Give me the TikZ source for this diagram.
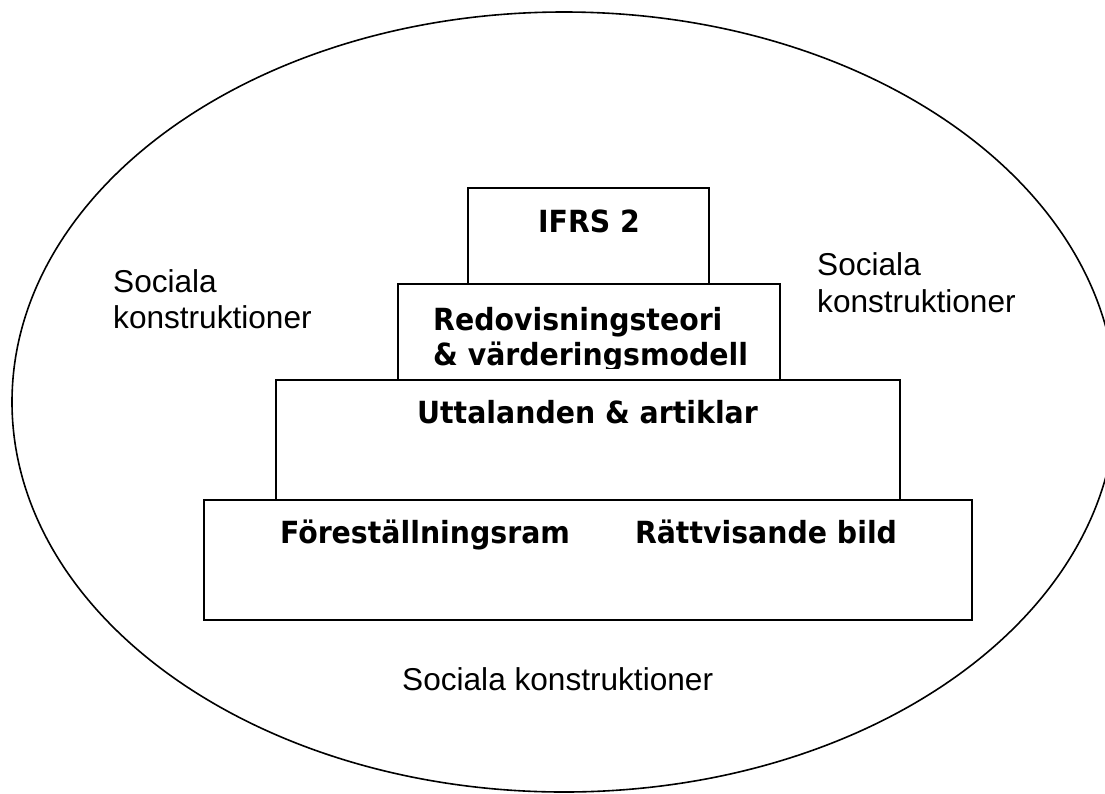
\documentclass[tikz,border=0pt]{standalone}
\usepackage{fontspec}
\setmainfont{Liberation Sans}
\newfontfamily\boldfam[FakeStretch=0.93]{DejaVu Sans}
\begin{document}
\begin{tikzpicture}[x=1pt,y=-1pt,
  layerbox/.style={draw=black,line width=1.8pt,fill=white,inner sep=0pt},
  boldtxt/.style={inner sep=0pt,font=\boldfam\bfseries\fontsize{30.5}{36}\selectfont},
  socialtxt/.style={inner sep=0pt,anchor=base west,font=\fontsize{31.6}{36}\selectfont}]
\clip (0,0) rectangle (1105,793);
\useasboundingbox (0,0) rectangle (1105,793);
\draw[line width=1.6pt] (564,402) ellipse [x radius=552, y radius=390];
% layers
\node[layerbox,minimum width=768pt,minimum height=120pt] (base) at (588,560) {};
\node[layerbox,minimum width=624pt,minimum height=120pt] (utta) at (588,440) {};
\node[layerbox,minimum width=382pt,minimum height=96pt] (redo) at (589,332) {};
\node[layerbox,minimum width=241pt,minimum height=96pt] (ifrs) at (588.5,236) {};
% texts
\node[boldtxt,anchor=base] (tifrs) at (589,232) {IFRS 2};
\node[boldtxt,anchor=base west] (tredo1) at (433,330) {Redovisningsteori};
\begin{scope}
\clip (398,284) rectangle (780,368);
\node[boldtxt,anchor=base west] (tredo2) at (433,365) {\& värderingsmodell};
\end{scope}
\node[boldtxt,anchor=base] (tutta) at (587.5,423) {Uttalanden \& artiklar};
\node[boldtxt,anchor=base] (tfore) at (425,543) {Föreställningsram};
\node[boldtxt,anchor=base] (tratt) at (766,543) {Rättvisande bild};
% social constructions
\node[socialtxt] (sl1) at (113,292) {Sociala};
\node[socialtxt] (sl2) at (113,328) {konstruktioner};
\node[socialtxt] (sr1) at (817,275) {Sociala};
\node[socialtxt] (sr2) at (817,312) {konstruktioner};
\node[socialtxt] (sb) at (402,690) {Sociala konstruktioner};
\end{tikzpicture}
\end{document}
